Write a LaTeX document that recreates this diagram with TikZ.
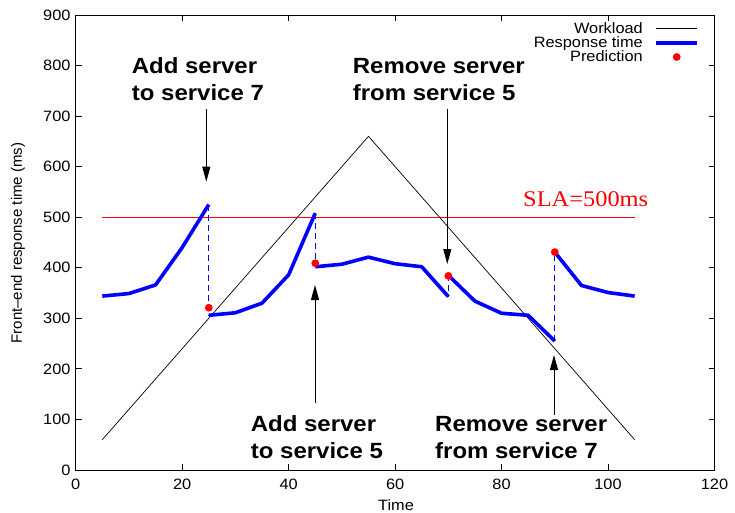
\documentclass[tikz,border=0pt]{standalone}
\usepackage{fontspec}
\setmainfont{Liberation Sans}[FakeStretch=1.09]
\newfontfamily\plainsans{Liberation Sans}
\newfontfamily\slaserif{Liberation Serif}[FakeStretch=1.09]
\usetikzlibrary{arrows.meta}

\definecolor{rtblue}{RGB}{0,0,255}
\definecolor{predred}{RGB}{255,0,0}

\begin{document}
\begin{tikzpicture}[x=1pt,y=-1pt,
  ticklab/.style={font=\fontsize{15}{15}\selectfont, inner sep=0pt},
  leglab/.style={font=\fontsize{15}{15}\selectfont, inner sep=0pt, anchor=base east},
  eventlab/.style={font=\fontsize{22}{22}\selectfont\bfseries, inner sep=0pt, anchor=base west},
  eventarrow/.style={draw=black, line width=0.9pt, -{Triangle[length=15pt,width=8pt]}},
  workload/.style={draw=black, line width=0.7pt},
  slaline/.style={draw=predred, line width=0.8pt},
  rt/.style={draw=rtblue, line width=3.6pt, line join=round},
  jump/.style={draw=rtblue, line width=0.9pt, dash pattern=on 6pt off 4pt},
  preddot/.style={fill=predred, draw=none},
]
\useasboundingbox (0,0) rectangle (735,512);

% ---- plot area ----
\begin{scope}[shift={(75.7pt,-470pt)}, x=5.3233pt, y=0.5056pt]
  % workload
  \draw[workload] (5,60) -- (55,660) -- (105,60);
  % SLA level
  \draw[slaline] (5,500) -- (105,500);

  % jumps of the response time at each reconfiguration
  \draw[jump] (25,525) -- (25,305);
  \draw[jump] (45,508) -- (45,402);
  \draw[jump] (70,385) -- (70,343);
  \draw[jump] (90,255) -- (90,432);

  % response time
  \draw[rt] (5,344) -- (10,349) -- (15,366) -- (20,440) -- (25,525);
  \draw[rt] (25,306) -- (30,311) -- (35,330) -- (40,386) -- (45,508);
  \draw[rt] (45,402) -- (50,407) -- (55,421) -- (60,408) -- (65,402) -- (70,343);
  \draw[rt] (70,385) -- (75,334) -- (80,310) -- (85,306) -- (90,255);
  \draw[rt] (90,431) -- (95,365) -- (100,351) -- (105,344);

  % predictions
  \fill[preddot] (25,321) circle[radius=3.9pt];
  \fill[preddot] (45,409) circle[radius=3.9pt];
  \fill[preddot] (70,384) circle[radius=3.9pt];
  \fill[preddot] (90,431) circle[radius=3.9pt];

  % ticks
  \foreach \t in {20,40,...,100} {
    \draw[line width=0.8pt] (\t,0) -- ++(0pt,6pt);
    \draw[line width=0.8pt] (\t,900) -- ++(0pt,-6pt);
  }
  \foreach \t in {100,200,...,800} {
    \draw[line width=0.8pt] (0,\t) -- ++(6pt,0pt);
    \draw[line width=0.8pt] (120,\t) -- ++(-6pt,0pt);
  }
  % tick labels
  \foreach \t in {0,20,...,120}
    \node[ticklab] (xt\t) at ([yshift=-14pt]\t,0) {\t};
  \foreach \t in {0,100,...,900}
    \node[ticklab, anchor=east] (yt\t) at ([xshift=-5pt]0,\t) {\t};
\end{scope}

% frame
\draw[line width=1pt] (75.7,15) rectangle (714.5,470);

% axis titles
\node[ticklab, anchor=base] (xtitle) at (396,510.3) {Time};
\node[ticklab, rotate=90, font=\fontsize{15}{15}\plainsans] (ytitle) at (18,243) {Front–end response time (ms)};

% SLA label
\node[inner sep=0pt, anchor=base west, text=predred, font=\fontsize{22.4}{22.4}\slaserif] (sla) at (523,206) {SLA=500ms};

% legend
\node[leglab] (lgw) at (643,33.5) {Workload};
\node[leglab] (lgr) at (643,47.5) {Response time};
\node[leglab] (lgp) at (643,61.5) {Prediction};
\coordinate (lgwa) at (656,28.3);  \coordinate (lgwb) at (697,28.3);
\coordinate (lgra) at (656,42.7);  \coordinate (lgrb) at (697,42.7);
\draw[workload] (lgwa) -- (lgwb);
\draw[rt, line join=miter] (lgra) -- (lgrb);
\fill[preddot] (676.7,57) circle[radius=3.9pt];

% reconfiguration events
\node[eventlab] (e1a) at (131.7,73.3) {Add server};
\node[eventlab] (e1b) at (131.7,100.7) {to service 7};
\coordinate (e1s) at (206.3,109.3); \coordinate (e1t) at (206.3,181.7);
\draw[eventarrow] (e1s) -- (e1t);

\node[eventlab] (e2a) at (352.7,73.3) {Remove server};
\node[eventlab] (e2b) at (352.7,100) {from service 5};
\coordinate (e2s) at (447.3,109.3); \coordinate (e2t) at (447.3,264);
\draw[eventarrow] (e2s) -- (e2t);

\node[eventlab] (e3a) at (250.7,431.7) {Add server};
\node[eventlab] (e3b) at (250.7,458.3) {to service 5};
\coordinate (e3s) at (315,403); \coordinate (e3t) at (315,285);
\draw[eventarrow] (e3s) -- (e3t);

\node[eventlab] (e4a) at (435,431.7) {Remove server};
\node[eventlab] (e4b) at (435,458.3) {from service 7};
\coordinate (e4s) at (554,415); \coordinate (e4t) at (554,355);
\draw[eventarrow] (e4s) -- (e4t);
\end{tikzpicture}
\end{document}
